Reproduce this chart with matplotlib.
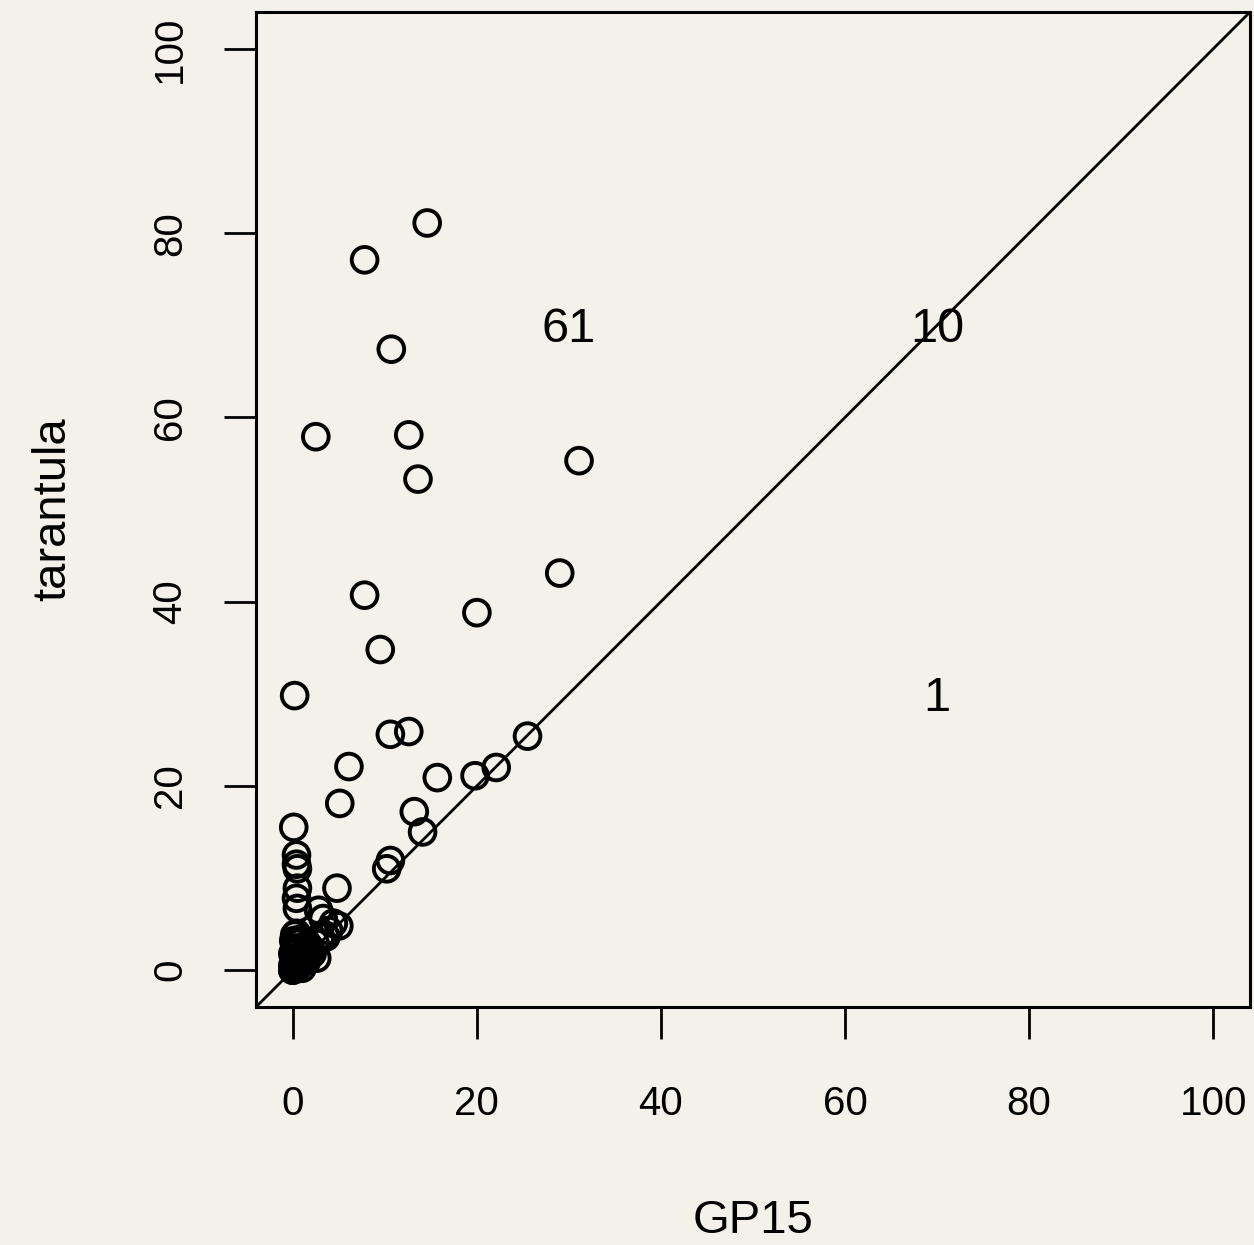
import matplotlib
matplotlib.use("Agg")
import matplotlib.pyplot as plt

# Scatter data: GP15 (x) vs tarantula (y)
gp15 = [14.6, 7.8, 10.7, 2.5, 12.6, 13.6, 31.1, 29.0, 7.8, 20.0, 9.5, 0.2,
        10.6, 12.6, 25.5, 6.1, 15.7, 19.8, 22.1, 5.1, 13.2, 14.1, 0.1, 10.6,
        10.2, 4.8,
        0.4, 0.4, 0.5, 0.5, 0.4, 0.5, 2.8, 3.3, 4.4, 5.0, 3.9, 3.5, 0.2, 0.6,
        0.0, 1.3, 2.6, 0.2, 0.0, 1.0, 1.8, 2.1, 0.1, 0.3, 0.8, 1.5, 0.5, 0.1,
        1.2, 0.3, 2.0, 0.7, 0.9, 1.6, 0.0, 0.4, 2.4, 3.0, 0.2, 1.1, 0.6, 1.9,
        0.0, 0.3, 1.4, 3.6]
tarantula = [81.1, 77.1, 67.4, 57.9, 58.1, 53.3, 55.3, 43.1, 40.7, 38.8, 34.8, 29.8,
             25.6, 25.9, 25.4, 22.1, 20.9, 21.1, 22.0, 18.1, 17.2, 15.0, 15.5, 11.9,
             11.0, 8.9,
             12.5, 11.5, 11.0, 8.9, 7.8, 6.7, 6.5, 5.6, 5.1, 4.8, 4.3, 3.8, 3.8, 2.9,
             1.8, 1.8, 1.3, 0.8, 0.0, 0.2, 2.5, 1.8, 3.2, 2.4, 1.5, 1.0, 0.3, 0.1,
             1.2, 1.2, 2.0, 0.7, 2.2, 2.8, 0.5, 4.0, 3.0, 3.6, 2.0, 0.9, 3.3, 1.9,
             0.0, 0.3, 1.4, 3.6]

region_labels = ["61", "10", "1"]
label_x = [30, 70, 70]
label_y = [70, 70, 30]

ticks = [0, 20, 40, 60, 80, 100]

bg = "#f4f1eb"
plt.rcParams["font.family"] = ["Liberation Sans", "DejaVu Sans"]

fig = plt.figure(figsize=(12.54, 12.45), dpi=100, facecolor=bg)
ax = fig.add_axes([256/1254, 1 - 1007/1245, (1250-256)/1254, (1007-12)/1245])
ax.set_facecolor(bg)

ax.scatter(gp15, tarantula, s=18.5**2, facecolors="none", edgecolors="black",
           linewidths=2.8, zorder=3)
ax.plot([-4, 104], [-4, 104], color="black", lw=2.0, zorder=2)

for t, x, y in zip(region_labels, label_x, label_y):
    ax.text(x, y - 0.5, t, fontsize=35, ha="center", va="center", zorder=4)

ax.set_xlim(-4, 104)
ax.set_ylim(-4, 104)
ax.set_xticks(ticks)
ax.set_yticks(ticks)
ax.set_xticklabels([str(t) for t in ticks], fontsize=29)
ax.set_yticklabels([str(t) for t in ticks], fontsize=29, rotation=90, va="center")
ax.tick_params(axis="x", length=23, width=2.0, pad=33)
ax.tick_params(axis="y", length=23, width=2.0, pad=25)
for s in ax.spines.values():
    s.set_linewidth(2.2)

ax.set_xlabel("GP15", fontsize=34, labelpad=55)
ax.set_ylabel("tarantula", fontsize=34, labelpad=55)

fig.savefig("out.png", dpi=100, facecolor=bg)
